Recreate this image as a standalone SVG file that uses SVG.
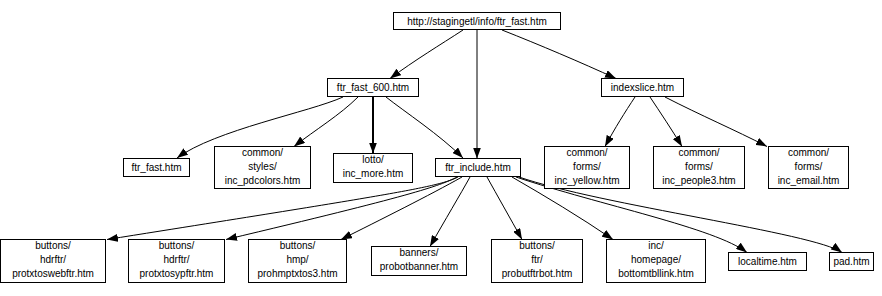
<svg xmlns="http://www.w3.org/2000/svg" width="882" height="296" viewBox="0 0 882 296">
  <defs>
    <style>
      .box { fill: #ffffff; stroke: #000000; stroke-width: 1; shape-rendering: crispEdges; }
      .lbl { font-family: "Liberation Sans", Arial, sans-serif; font-size: 10px; fill: #000000; text-anchor: middle; }
      .edge { fill: none; stroke: #000000; stroke-width: 1; marker-end: url(#arrow); }
    </style>
    <marker id="arrow" viewBox="0 0 11 8" refX="11" refY="4" markerWidth="11" markerHeight="8" markerUnits="userSpaceOnUse" orient="auto">
      <path d="M0,0 L11,4 L0,8 Z" fill="#000000"/>
    </marker>
  </defs>

  <rect x="0" y="0" width="882" height="296" fill="#ffffff"/>

  <!-- connectors -->
  <g id="edges">
    <path class="edge" d="M463,30 C440,45 415,60 390,78.5"/>
    <path class="edge" d="M477,30 L477,158.5"/>
    <path class="edge" d="M502,30 C540,45 580,62 616,78.5"/>

    <path class="edge" d="M343,97 C310,112 215,130 177,158"/>
    <path class="edge" d="M358,97 C340,115 315,130 294,146.5"/>
    <path class="edge" d="M373,97 L373,153.5" style="stroke-width:2"/>
    <path class="edge" d="M386,97 C405,112 440,135 463,158"/>

    <path class="edge" d="M635,97 C625,112 615,128 605,146.5"/>
    <path class="edge" d="M650,97 C660,112 672,130 682,146.5"/>
    <path class="edge" d="M665,97 C700,115 735,130 767,146.5"/>

    <path class="edge" d="M458,177 C438,187 400,193 107,239.5"/>
    <path class="edge" d="M457,177 C440,186 410,196 226,239.5"/>
    <path class="edge" d="M462,177 C430,195 380,220 341,239.5"/>
    <path class="edge" d="M470,177 C460,195 445,220 430,246.5"/>
    <path class="edge" d="M487,177 C497,195 510,218 522,239.5"/>
    <path class="edge" d="M512,177 C545,196 580,217 613,239.5"/>
    <path class="edge" d="M516,177 C600,205 715,228 747,252.5"/>
    <path class="edge" d="M519,177 C600,205 815,233 842,252.5"/>
  </g>

  <!-- nodes -->
  <g id="n-root">
    <rect class="box" x="393.5" y="12.5" width="167" height="17"/>
    <text class="lbl" x="477" y="24.5">http://stagingetl/info/ftr_fast.htm</text>
  </g>

  <g id="n-ftr_fast_600">
    <rect class="box" x="327.5" y="78.5" width="91" height="18"/>
    <text class="lbl" x="373" y="91">ftr_fast_600.htm</text>
  </g>

  <g id="n-indexslice">
    <rect class="box" x="601.5" y="78.5" width="82" height="18"/>
    <text class="lbl" x="642.5" y="91">indexslice.htm</text>
  </g>

  <g id="n-ftr_fast">
    <rect class="box" x="123.5" y="158.5" width="66" height="18"/>
    <text class="lbl" x="156.5" y="171">ftr_fast.htm</text>
  </g>

  <g id="n-inc_pdcolors">
    <rect class="box" x="214.5" y="146.5" width="96" height="42"/>
    <text class="lbl" x="262.5" y="156">common/</text>
    <text class="lbl" x="262.5" y="170">styles/</text>
    <text class="lbl" x="262.5" y="184">inc_pdcolors.htm</text>
  </g>

  <g id="n-inc_more">
    <rect class="box" x="333.5" y="153.5" width="79" height="29"/>
    <text class="lbl" x="373" y="163">lotto/</text>
    <text class="lbl" x="373" y="177">inc_more.htm</text>
  </g>

  <g id="n-ftr_include">
    <rect class="box" x="435.5" y="158.5" width="85" height="18"/>
    <text class="lbl" x="478" y="171">ftr_include.htm</text>
  </g>

  <g id="n-inc_yellow">
    <rect class="box" x="544.5" y="146.5" width="85" height="42"/>
    <text class="lbl" x="587" y="156">common/</text>
    <text class="lbl" x="587" y="170">forms/</text>
    <text class="lbl" x="587" y="184">inc_yellow.htm</text>
  </g>

  <g id="n-inc_people3">
    <rect class="box" x="653.5" y="146.5" width="91" height="42"/>
    <text class="lbl" x="699" y="156">common/</text>
    <text class="lbl" x="699" y="170">forms/</text>
    <text class="lbl" x="699" y="184">inc_people3.htm</text>
  </g>

  <g id="n-inc_email">
    <rect class="box" x="768.5" y="146.5" width="80" height="42"/>
    <text class="lbl" x="808.5" y="156">common/</text>
    <text class="lbl" x="808.5" y="170">forms/</text>
    <text class="lbl" x="808.5" y="184">inc_email.htm</text>
  </g>

  <g id="n-protxtoswebftr">
    <rect class="box" x="0.5" y="239.5" width="105" height="43"/>
    <text class="lbl" x="53" y="249">buttons/</text>
    <text class="lbl" x="53" y="263">hdrftr/</text>
    <text class="lbl" x="53" y="277">protxtoswebftr.htm</text>
  </g>

  <g id="n-protxtosypftr">
    <rect class="box" x="128.5" y="239.5" width="96" height="43"/>
    <text class="lbl" x="176.5" y="249">buttons/</text>
    <text class="lbl" x="176.5" y="263">hdrftr/</text>
    <text class="lbl" x="176.5" y="277">protxtosypftr.htm</text>
  </g>

  <g id="n-prohmptxtos3">
    <rect class="box" x="248.5" y="239.5" width="98" height="43"/>
    <text class="lbl" x="297.5" y="249">buttons/</text>
    <text class="lbl" x="297.5" y="263">hmp/</text>
    <text class="lbl" x="297.5" y="277">prohmptxtos3.htm</text>
  </g>

  <g id="n-probotbanner">
    <rect class="box" x="371.5" y="246.5" width="95" height="29"/>
    <text class="lbl" x="419" y="256">banners/</text>
    <text class="lbl" x="419" y="270">probotbanner.htm</text>
  </g>

  <g id="n-probutftrbot">
    <rect class="box" x="491.5" y="239.5" width="91" height="43"/>
    <text class="lbl" x="537" y="249">buttons/</text>
    <text class="lbl" x="537" y="263">ftr/</text>
    <text class="lbl" x="537" y="277">probutftrbot.htm</text>
  </g>

  <g id="n-bottomtbllink">
    <rect class="box" x="606.5" y="239.5" width="99" height="43"/>
    <text class="lbl" x="656" y="249">inc/</text>
    <text class="lbl" x="656" y="263">homepage/</text>
    <text class="lbl" x="656" y="277">bottomtbllink.htm</text>
  </g>

  <g id="n-localtime">
    <rect class="box" x="728.5" y="252.5" width="78" height="18"/>
    <text class="lbl" x="767.5" y="265">localtime.htm</text>
  </g>

  <g id="n-pad">
    <rect class="box" x="829.5" y="252.5" width="44" height="18"/>
    <text class="lbl" x="851.5" y="265">pad.htm</text>
  </g>
</svg>
